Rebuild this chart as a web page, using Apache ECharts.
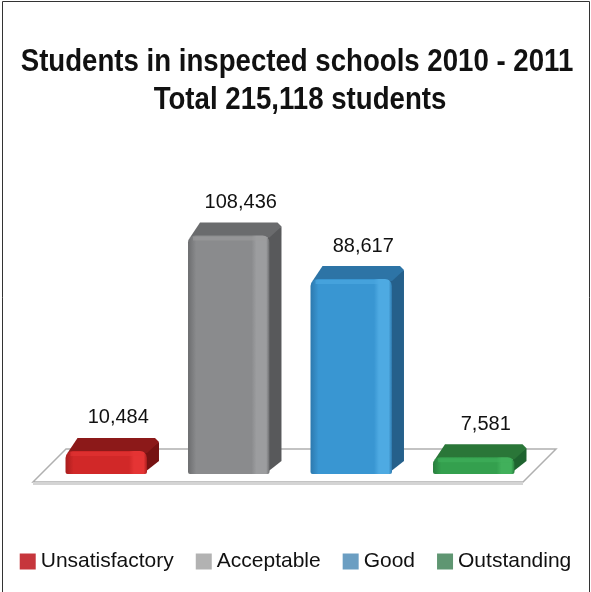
<!DOCTYPE html>
<html><head><meta charset="utf-8">
<script src="https://cdn.jsdelivr.net/npm/echarts@6/dist/echarts.min.js"></script>
<style>html,body{margin:0;padding:0;background:#fff}#c{width:591px;height:592px}</style>
</head><body><div id="c"></div>
<script>
const categories = ['Unsatisfactory', 'Acceptable', 'Good', 'Outstanding'];
const values = [10484, 108436, 88617, 7581];
const titleLines = ['Students in inspected schools 2010 - 2011', 'Total 215,118 students'];

// per-bar shading: [front, highlight, leftBevel, top, side]
const shades = [
  ['#d12828', '#e53434', '#a81d1d', '#8c1919', '#761212'],
  ['#8a8b8d', '#9c9d9f', '#6c6d6f', '#6a6b6d', '#58595b'],
  ['#3996d2', '#4eaae2', '#2d79ae', '#2d74a6', '#25608b'],
  ['#34a04e', '#41b05b', '#287d3d', '#2a7638', '#1e632f']
];
const legendColors = ['#c6363c', '#b2b2b2', '#6b9ec2', '#5f9672'];

const DX = 12, DY = 13;

function barRender(params, api) {
  const i = api.value(0);
  const v = api.value(1);
  const base = api.coord([i, 0]);
  const top = api.coord([i, v]);
  const band = api.size([1, 0])[0];
  const bw = band * 0.665;
  const x0 = base[0] - bw / 2, x1 = base[0] + bw / 2;
  const y0 = base[1], y1 = top[1];
  const s = shades[i];
  const front = new echarts.graphic.LinearGradient(0, 0, 1, 0, [
    { offset: 0, color: s[2] }, { offset: 0.1, color: s[0] },
    { offset: 0.78, color: s[0] }, { offset: 0.84, color: s[1] },
    { offset: 0.96, color: s[1] }, { offset: 1, color: s[2] }
  ]);
  return {
    type: 'group',
    children: [
      { type: 'polygon', shape: { points: [[x1 - 2, y1], [x1 + DX, y1 - DY + 4], [x1 + DX, y0 - DY], [x1 - 2, y0 - 2]] },
        style: { fill: s[4] } },
      { type: 'polygon', shape: { points: [[x0 + 2, y1 + 2], [x0 + DX, y1 - DY], [x1 + DX - 4, y1 - DY], [x1 + DX, y1 - DY + 4], [x1, y1 + 2]] },
        style: { fill: s[3] } },
      { type: 'rect', shape: { x: x0, y: y1, width: bw, height: y0 - y1, r: [7, 7, 2, 2] },
        style: { fill: front } },
      { type: 'rect', shape: { x: x0 + 5, y: y1 + 1, width: bw - 8, height: 4 },
        style: { fill: s[1], opacity: 0.6 } },
      { type: 'text', style: { text: v.toLocaleString('en-US'), x: base[0] + DX, y: y1 - DY - 20,
        align: 'center', verticalAlign: 'middle', font: '20px "Liberation Sans", Arial, sans-serif', fill: '#111' } }
    ]
  };
}

function floorRender(params, api) {
  const c = api.coord([0, 0]);
  const band = api.size([1, 0])[0];
  const left = c[0] - band / 2 - 4;
  const right = left + band * categories.length;
  const y = c[1];
  const pts = [[left - 8, y + 8], [left + 25, y - 25], [right + 25, y - 25], [right - 8, y + 8]];
  return {
    type: 'group',
    children: [
      { type: 'polygon', shape: { points: pts }, style: { fill: '#fff', stroke: '#b0b0b0', lineWidth: 1.5 } },
      { type: 'line', shape: { x1: left - 8, y1: y + 9.5, x2: right - 8, y2: y + 9.5 }, style: { stroke: '#d4d4d4', lineWidth: 3 } }
    ]
  };
}

const series = [{
  name: 'floor', type: 'custom', renderItem: floorRender, data: [[0, 0]], z: 1, silent: true,
  encode: { x: 0, y: 1 }
}];
categories.forEach((name, i) => {
  series.push({
    name, type: 'custom', renderItem: barRender, z: 2,
    itemStyle: { color: legendColors[i] },
    encode: { x: 0, y: 1 },
    data: [[i, values[i]]]
  });
});

const titleFont = 'bold 32px "Liberation Sans", Arial, sans-serif';
const chart = echarts.init(document.getElementById('c'), null, { renderer: 'canvas' });
chart.setOption({
  animation: false,
  backgroundColor: '#fff',
  grid: { left: 45, right: 56, top: 210, bottom: 118 },
  xAxis: { type: 'category', data: categories, show: false },
  yAxis: { type: 'value', min: 0, max: 120000, show: false },
  legend: {
    data: categories.map((n, i) => ({ name: n, itemStyle: { color: legendColors[i] } })),
    left: 'center', top: 546, icon: 'rect', itemWidth: 16, itemHeight: 16, itemGap: 22,
    textStyle: { fontFamily: '"Liberation Sans", Arial, sans-serif', fontSize: 21, color: '#111' },
    selectedMode: false
  },
  graphic: [
    { type: 'rect', shape: { x: 2.5, y: 1.5, width: 587, height: 620 },
      style: { fill: 'none', stroke: '#333', lineWidth: 1 }, silent: true },
    { type: 'text', x: 297, y: 62, scaleX: 0.863, silent: true,
      style: { text: titleLines[0], font: titleFont, fill: '#111', align: 'center', verticalAlign: 'middle' } },
    { type: 'text', x: 300, y: 100, scaleX: 0.863, silent: true,
      style: { text: titleLines[1], font: titleFont, fill: '#111', align: 'center', verticalAlign: 'middle' } }
  ],
  series
});
</script></body></html>
